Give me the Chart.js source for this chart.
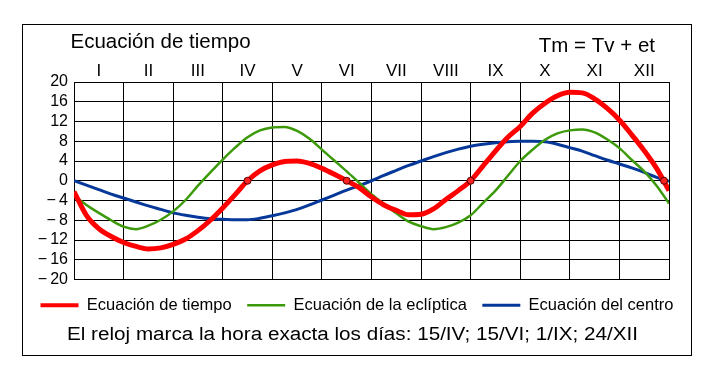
<!DOCTYPE html>
<html><head><meta charset="utf-8">
<script src="https://cdn.jsdelivr.net/npm/chart.js@4"></script>
<style>
html,body{margin:0;padding:0;background:#fff;}
#frame{position:absolute;left:22px;top:24px;width:668px;height:330px;border:1px solid #000;background:#fff;}
canvas{display:block;}
</style></head><body>
<div id="frame"><canvas id="c" width="668" height="330"></canvas></div>
<script>
// Month labels (top axis) and y tick values
const monthLabels = ['I','II','III','IV','V','VI','VII','VIII','IX','X','XI','XII'];
const yTickValues = [-20,-16,-12,-8,-4,0,4,8,12,16,20];

// Positions along the year, in months since 1 January (quarter-month samples)
const monthPos = [0,0.25,0.5,0.75,1,1.25,1.5,1.75,2,2.25,2.5,2.75,3,3.25,3.5,3.75,4,4.25,4.5,4.75,5,5.25,5.5,5.75,6,6.25,6.5,6.75,7,7.25,7.5,7.75,8,8.25,8.5,8.75,9,9.25,9.5,9.75,10,10.25,10.5,10.75,11,11.25,11.5,11.75,12];

// Ecuación de tiempo (minutes)
const ecTiempo = [-2.2,-7.0,-9.7,-11.3,-12.5,-13.3,-13.8,-13.6,-12.9,-11.8,-10.1,-8.0,-5.5,-2.8,0,2.0,3.2,3.9,4.0,3.5,2.5,1.3,0,-1.4,-3.3,-4.9,-6.0,-6.9,-6.8,-5.7,-3.8,-2.0,0,3.0,6.0,8.8,11.0,13.7,15.7,17.2,17.9,17.8,16.6,14.7,12.3,9.3,6.1,2.5,-2.0];
// Ecuación de la eclíptica
const ecEcliptica = [-3.0,-4.9,-6.5,-8.0,-9.3,-9.8,-9.1,-7.9,-6.2,-3.9,-1.0,1.7,4.3,6.7,8.8,10.2,10.8,10.9,10.1,8.5,6.3,4.1,1.9,-0.4,-2.7,-4.7,-6.6,-8.3,-9.2,-9.8,-9.4,-8.5,-7.0,-4.5,-2.0,1.0,4.0,6.3,8.3,9.6,10.2,10.4,9.8,8.4,6.6,4.2,1.9,-1.0,-4.6];
// Ecuación del centro
const ecCentro = [0,-0.9,-1.8,-2.7,-3.5,-4.3,-5.1,-5.8,-6.5,-7.0,-7.4,-7.7,-7.8,-7.9,-7.9,-7.6,-7.1,-6.5,-5.8,-4.9,-3.9,-2.9,-1.9,-1.0,0,1.1,2.1,3.1,4.0,4.9,5.7,6.4,7.0,7.4,7.7,7.9,8.0,8.0,7.9,7.4,6.7,6.0,5.1,4.2,3.4,2.6,1.7,0.7,-0.1];

// Days when the clock shows exact time (15/IV, 15/VI, 1/IX, 24/XII)
const exactPos = [3.5, 5.5, 8, 11.9];
const exactVal = [0, 0, 0, 0];

const seriesNames = ['Ecuación de tiempo','Ecuación de la eclíptica','Ecuación del centro'];
const titleLeft = 'Ecuación de tiempo';
const titleRight = 'Tm = Tv + et';
const footText = 'El reloj marca la hora exacta los días: 15/IV; 15/VI; 1/IX; 24/XII';

const FONT = '"Liberation Sans", Arial, Helvetica, sans-serif';
Chart.defaults.font.family = FONT;
Chart.defaults.color = '#000';

const pts = (xs, ys) => xs.map((x, i) => ({x, y: ys[i]}));

const textDeco = {
  id: 'textDeco',
  afterDraw(chart) {
    const {ctx, chartArea: a, width, height} = chart;
    ctx.save();
    ctx.fillStyle = '#000';
    ctx.textBaseline = 'alphabetic';
    ctx.font = '20.5px ' + FONT;
    ctx.textAlign = 'left';
    ctx.fillText(titleLeft, a.left - 3.5, a.top - 34);
    ctx.textAlign = 'right';
    ctx.fillText(titleRight, a.right - 14, a.top - 30);
    // footer line, slightly widened as in the original
    ctx.font = '18px ' + FONT;
    ctx.textAlign = 'left';
    const w = ctx.measureText(footText).width;
    const target = 571;
    const sx = target / w;
    const cx = width / 2 - 4.5;
    ctx.translate(cx - target / 2, height - 15);
    ctx.scale(sx, 1);
    ctx.fillText(footText, 0, 0);
    ctx.restore();
  }
};

new Chart(document.getElementById('c'), {
  type: 'line',
  data: {
    datasets: [
      {label: seriesNames[0], data: pts(monthPos, ecTiempo), borderColor: '#ff0000', backgroundColor: '#ff0000', borderWidth: 5, pointRadius: 0, cubicInterpolationMode: 'monotone', order: 0},
      {label: seriesNames[1], data: pts(monthPos, ecEcliptica), borderColor: '#3c9a0a', backgroundColor: '#3c9a0a', borderWidth: 2.5, pointRadius: 0, cubicInterpolationMode: 'monotone', order: 0},
      {label: seriesNames[2], data: pts(monthPos, ecCentro), borderColor: '#06389a', backgroundColor: '#06389a', borderWidth: 3, pointRadius: 0, cubicInterpolationMode: 'monotone', order: 0},
      {label: 'exact', data: pts(exactPos, exactVal), showLine: false, pointRadius: 3.5, pointBackgroundColor: '#ff2020', pointBorderColor: '#500000', pointBorderWidth: 1, order: -1}
    ]
  },
  options: {
    responsive: false,
    maintainAspectRatio: false,
    animation: false,
    devicePixelRatio: 1,
    layout: {padding: {left: 0, right: 0, top: 0, bottom: 31.5}},
    plugins: {
      tooltip: {enabled: false},
      title: {display: false},
      legend: {
        position: 'bottom',
        labels: {
          usePointStyle: true, pointStyle: 'line', pointStyleWidth: 38,
          font: {size: 16.5, family: FONT}, color: '#000', padding: 15.5,
          generateLabels: chart => Chart.defaults.plugins.legend.labels.generateLabels(chart)
            .filter(it => it.datasetIndex < 3)
            .map(it => Object.assign(it, {lineWidth: Math.min(it.lineWidth, 4)}))
        }
      }
    },
    scales: {
      x: {
        type: 'linear', position: 'bottom', min: 0, max: 12,
        ticks: {stepSize: 1, display: false},
        grid: {color: '#000', lineWidth: 1, drawTicks: false},
        border: {display: true, color: '#000'},
        afterFit(s) { s.height = 2; }
      },
      xTop: {
        type: 'category', position: 'top', labels: monthLabels, offset: true,
        grid: {display: false, drawTicks: false},
        border: {display: false},
        ticks: {color: '#000', font: {size: 17, family: FONT}, padding: 0, maxRotation: 0, autoSkip: false},
        afterFit(s) { s.height = 57; }
      },
      y: {
        min: -20, max: 20,
        afterBuildTicks(s) { s.ticks = yTickValues.map(v => ({value: v})); },
        ticks: {color: '#000', font: {size: 16, family: FONT}, padding: 6, autoSkip: false,
          callback: v => String(v).replace('-', '\u2212\u2009')},
        grid: {color: '#000', lineWidth: 1, drawTicks: false},
        border: {display: true, color: '#000'},
        afterFit(s) { s.width = 51; }
      },
      yRight: {
        type: 'linear', position: 'right', display: true,
        ticks: {display: false},
        grid: {display: false, drawTicks: false},
        border: {display: false},
        afterFit(s) { s.width = 22; }
      }
    }
  },
  plugins: [textDeco]
});
</script>
</body></html>
